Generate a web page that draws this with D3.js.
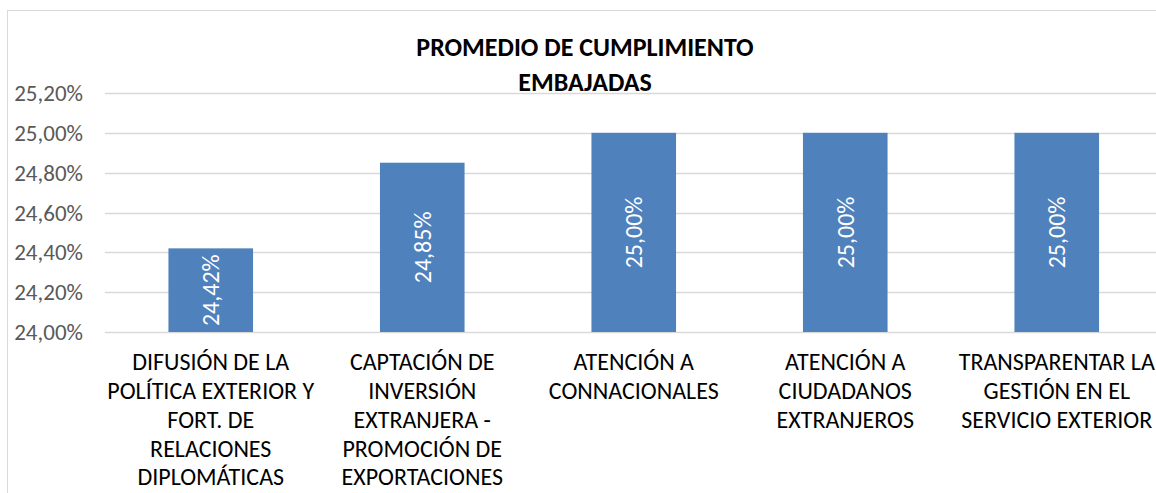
<!DOCTYPE html>
<html><head><meta charset="utf-8">
<script src="https://cdn.jsdelivr.net/npm/d3@7"></script>
<style>body{margin:0;background:#fff}svg{display:block}text{font-family:Carlito,Calibri,Lato,sans-serif}</style>
</head><body><svg id="c" width="1156" height="493"></svg>
<script>
const titleLines = ["PROMEDIO DE CUMPLIMIENTO", "EMBAJADAS"];
const categories = [
  ["DIFUSIÓN DE LA", "POLÍTICA EXTERIOR Y", "FORT. DE", "RELACIONES", "DIPLOMÁTICAS"],
  ["CAPTACIÓN DE", "INVERSIÓN", "EXTRANJERA -", "PROMOCIÓN DE", "EXPORTACIONES"],
  ["ATENCIÓN A", "CONNACIONALES"],
  ["ATENCIÓN A", "CIUDADANOS", "EXTRANJEROS"],
  ["TRANSPARENTAR LA", "GESTIÓN EN EL", "SERVICIO EXTERIOR"]
];
const values = [0.2442, 0.2485, 0.25, 0.25, 0.25];
const valueLabels = ["24,42%", "24,85%", "25,00%", "25,00%", "25,00%"];
const yTicks = [0.24, 0.242, 0.244, 0.246, 0.248, 0.25, 0.252];
const yTickLabels = ["24,00%", "24,20%", "24,40%", "24,60%", "24,80%", "25,00%", "25,20%"];

const svg = d3.select("#c");
svg.append("rect").attr("x", 7.5).attr("y", 10.5).attr("width", 1170).attr("height", 500)
  .attr("fill", "none").attr("stroke", "#d9d9d9").attr("stroke-width", 1);

const x = d3.scaleBand().domain(d3.range(categories.length)).range([105, 1162.5])
  .paddingInner(0.6).paddingOuter(0.3);
const y = d3.scaleLinear().domain([0.24, 0.252]).range([332, 93]);

svg.append("g").selectAll("line").data(yTicks).join("line")
  .attr("x1", 105).attr("x2", 1162.5)
  .attr("y1", d => Math.round(y(d)) + 0.5).attr("y2", d => Math.round(y(d)) + 0.5)
  .attr("stroke", "#d9d9d9").attr("stroke-width", 1.5);

svg.append("g").selectAll("text").data(yTicks).join("text")
  .attr("x", 83).attr("y", d => y(d)).attr("dy", "0.35em")
  .attr("text-anchor", "end").attr("fill", "#595959").attr("font-size", 23)
  .text((d, i) => yTickLabels[i]);

svg.append("g").selectAll("rect").data(values).join("rect")
  .attr("x", (d, i) => x(i)).attr("width", x.bandwidth())
  .attr("y", d => y(d)).attr("height", d => y(0.24) - y(d))
  .attr("fill", "#4f81bd");

svg.append("g").selectAll("text").data(values).join("text")
  .attr("transform", (d, i) => `translate(${x(i) + x.bandwidth() / 2},${(y(d) + y(0.24)) / 2}) rotate(-90)`)
  .attr("text-anchor", "middle").attr("dy", "0.35em")
  .attr("fill", "#fff").attr("font-size", 24)
  .text((d, i) => valueLabels[i]);

const cg = svg.append("g").selectAll("text").data(categories).join("text")
  .attr("text-anchor", "middle").attr("fill", "#000").attr("font-size", 24);
cg.each(function (lines, i) {
  d3.select(this).selectAll("tspan").data(lines).join("tspan")
    .attr("x", x(i) + x.bandwidth() / 2)
    .attr("y", (l, j) => 362 + j * 28.7)
    .attr("dy", "0.35em")
    .text(l => l);
});

svg.append("text").attr("text-anchor", "middle").attr("font-weight", "bold")
  .attr("font-size", 26).attr("fill", "#000")
  .selectAll("tspan").data(titleLines).join("tspan")
  .attr("x", 585).attr("y", (d, i) => 47 + i * 35).attr("dy", "0.35em").text(d => d);
</script></body></html>
